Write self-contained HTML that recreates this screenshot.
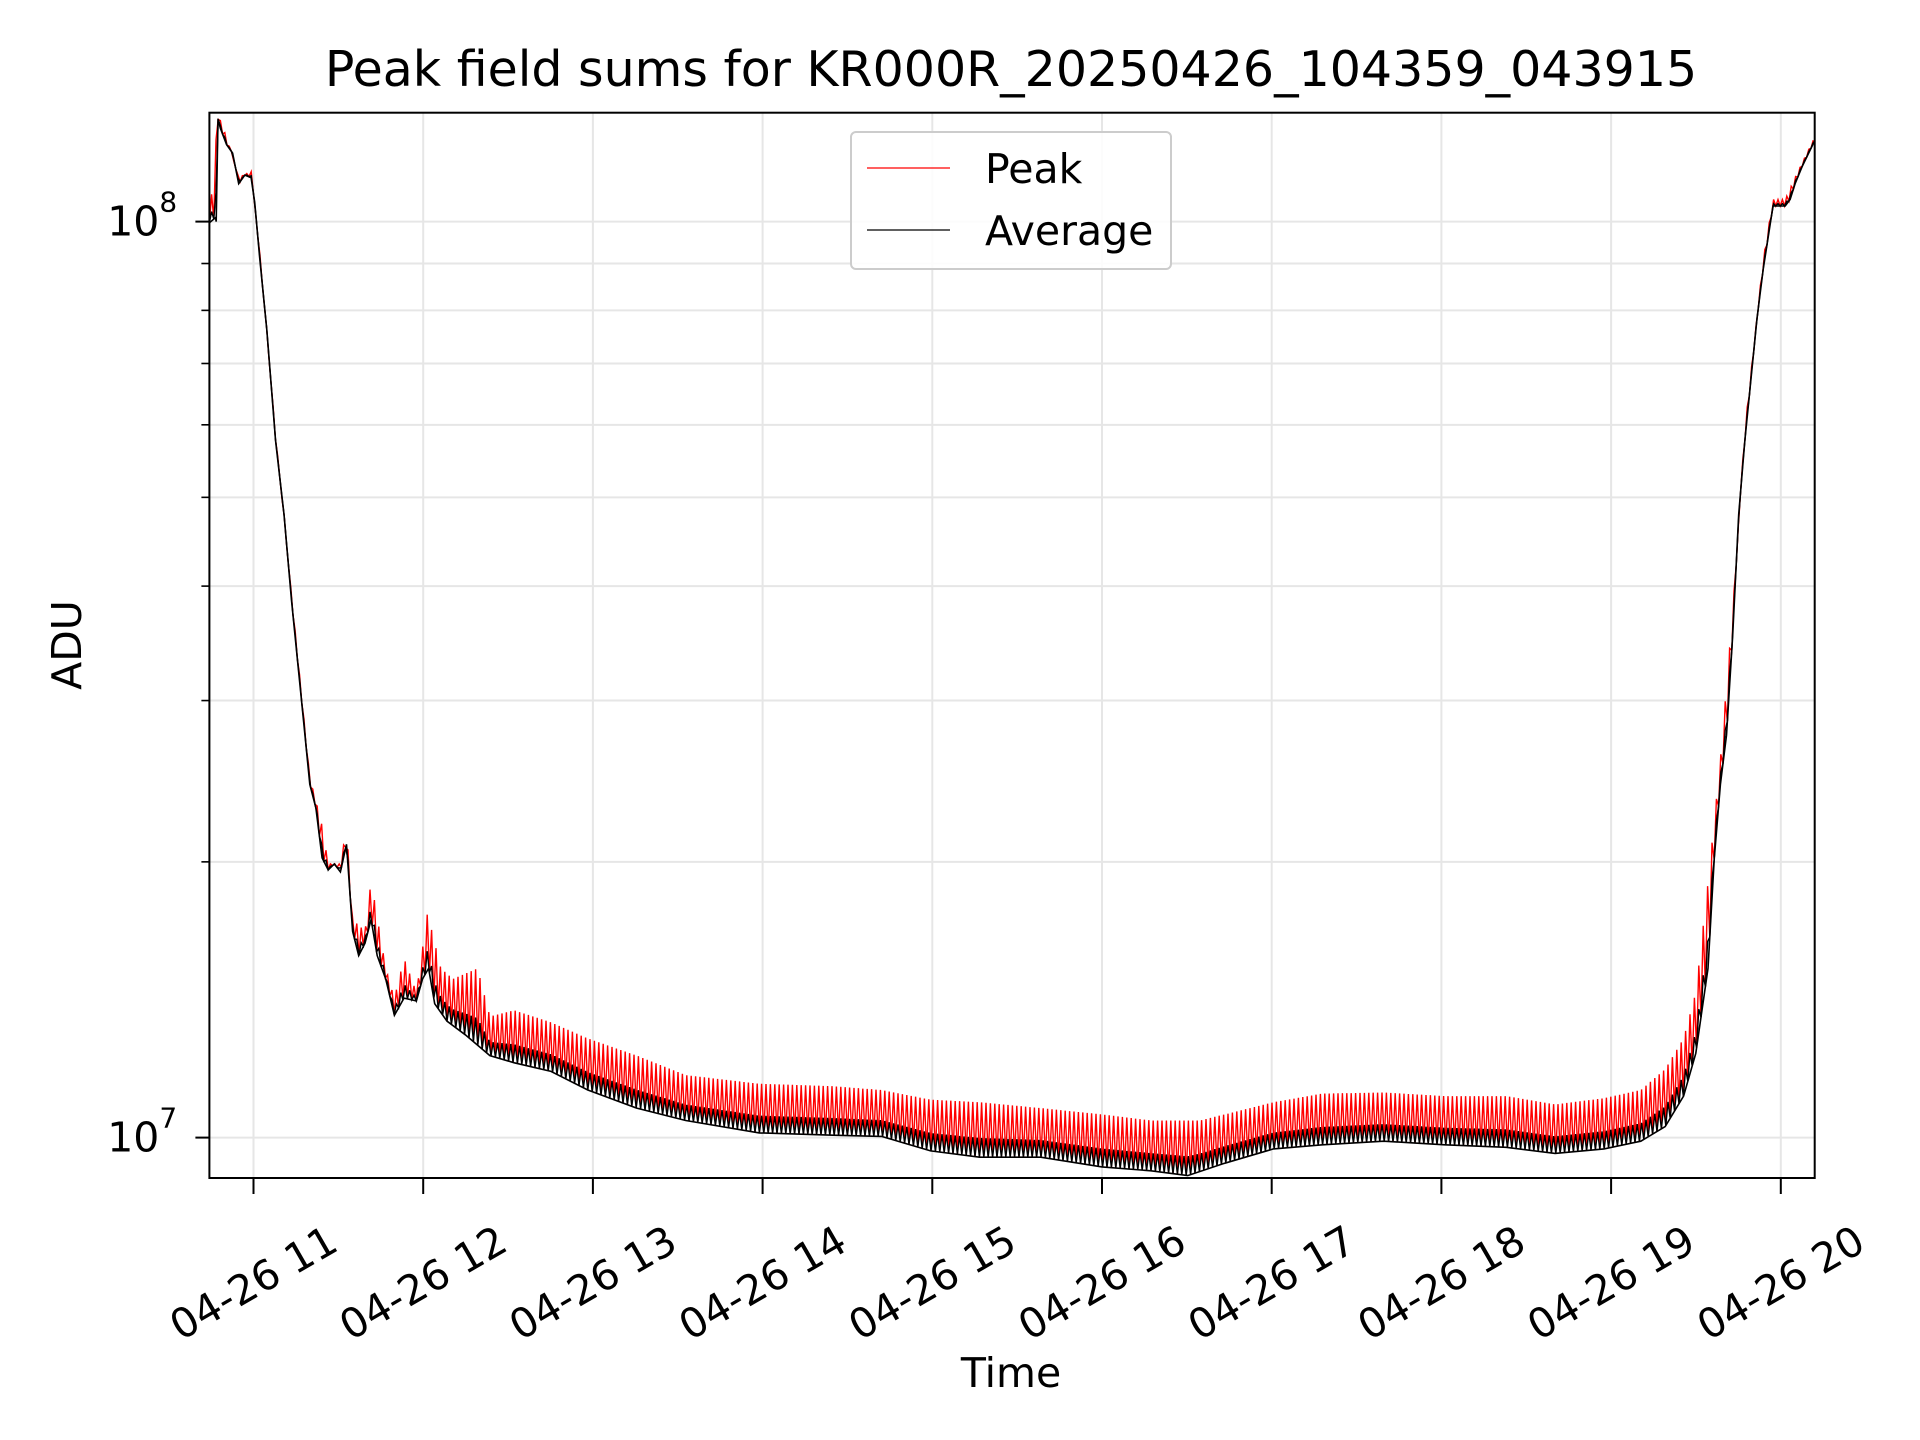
<!DOCTYPE html>
<html><head><meta charset="utf-8"><style>
html,body{margin:0;padding:0;background:#fff}
svg{display:block;font-family:"DejaVu Sans","Liberation Sans",sans-serif}
</style></head><body>
<svg id="chart" width="1920" height="1440" viewBox="0 0 1920 1440" xmlns="http://www.w3.org/2000/svg">
<rect width="1920" height="1440" fill="#fff"/>
<g id="grid"></g>
<g id="series"></g>
<rect x="209.4" y="112.7" width="1605.3" height="1065.3" fill="none" stroke="#000" stroke-width="2"/>
<g id="axes"></g>
<text x="1011" y="86" font-size="49" text-anchor="middle">Peak field sums for KR000R_20250426_104359_043915</text>
<text x="1011" y="1387" font-size="41" text-anchor="middle">Time</text>
<text x="0" y="0" font-size="41" text-anchor="middle" transform="translate(81,645) rotate(-90)">ADU</text>
<g>
<rect x="851" y="132" width="320" height="137" rx="5" fill="#fff" fill-opacity="0.85" stroke="#ccc" stroke-width="2"/>
<line x1="867" y1="168" x2="950" y2="168" stroke="#f00" stroke-width="1.3"/>
<text x="985" y="183" font-size="41">Peak</text>
<line x1="867" y1="230" x2="950" y2="230" stroke="#000" stroke-width="1.3"/>
<text x="985" y="245" font-size="41">Average</text>
</g>
</svg>
<script>
const avgT=[10.74,10.776,10.78,10.791,10.805,10.841,10.877,10.913,10.949,10.986,11.007,11.036,11.079,11.13,11.18,11.224,11.26,11.296,11.332,11.368,11.404,11.44,11.476,11.512,11.548,11.584,11.62,11.657,11.693,11.729,11.779,11.83,11.887,11.96,11.996,12.032,12.068,12.14,12.248,12.393,12.537,12.753,12.97,13.258,13.547,13.98,14.413,14.701,14.99,15.279,15.639,16.0,16.289,16.505,16.722,17.01,17.299,17.66,18.02,18.381,18.67,18.958,19.175,19.319,19.427,19.499,19.571,19.608,19.644,19.68,19.716,19.752,19.788,19.824,19.86,19.896,19.954,20.026,20.055,20.084,20.127,20.199];
const avgV=[9.97e7,1.01e8,1.0e8,1.295e8,1.264e8,1.214e8,1.188e8,1.10e8,1.124e8,1.117e8,1.05e8,9.15e7,7.6e7,5.76e7,4.79e7,3.86e7,3.31e7,2.84e7,2.43e7,2.29e7,2.02e7,1.96e7,1.99e7,1.95e7,2.09e7,1.68e7,1.58e7,1.63e7,1.73e7,1.58e7,1.49e7,1.36e7,1.42e7,1.41e7,1.49e7,1.53e7,1.40e7,1.34e7,1.295e7,1.229e7,1.207e7,1.181e7,1.127e7,1.077e7,1.044e7,1.012e7,1.006e7,1.003e7,9.67e6,9.52e6,9.52e6,9.29e6,9.20e6,9.09e6,9.375e6,9.72e6,9.82e6,9.91e6,9.82e6,9.76e6,9.61e6,9.72e6,9.91e6,1.028e7,1.11e7,1.236e7,1.53e7,2.02e7,2.43e7,2.75e7,3.52e7,4.79e7,5.76e7,6.72e7,7.84e7,8.87e7,1.04e8,1.04e8,1.057e8,1.10e8,1.15e8,1.225e8];
const peakT=[10.74,10.791,10.841,10.913,10.986,11.036,11.13,11.26,11.332,11.368,11.404,11.44,11.512,11.548,11.584,11.657,11.693,11.779,11.83,11.887,11.96,12.025,12.104,12.176,12.32,12.393,12.537,12.753,12.97,13.258,13.547,13.98,14.413,14.701,14.99,15.279,15.639,16.0,16.289,16.578,16.722,17.01,17.299,17.66,18.02,18.381,18.67,18.958,19.175,19.319,19.427,19.499,19.571,19.644,19.716,19.788,19.896,19.954,20.026,20.084,20.199];
const peakV=[1.0e8,1.31e8,1.236e8,1.117e8,1.135e8,9.29e7,5.85e7,3.36e7,2.47e7,2.33e7,2.19e7,1.99e7,1.99e7,2.18e7,1.73e7,1.68e7,1.91e7,1.53e7,1.42e7,1.57e7,1.44e7,1.76e7,1.53e7,1.49e7,1.53e7,1.356e7,1.377e7,1.336e7,1.283e7,1.229e7,1.17e7,1.145e7,1.138e7,1.127e7,1.10e7,1.093e7,1.077e7,1.06e7,1.044e7,1.044e7,1.06e7,1.093e7,1.117e7,1.12e7,1.11e7,1.11e7,1.087e7,1.104e7,1.127e7,1.188e7,1.283e7,1.44e7,1.90e7,2.59e7,3.75e7,5.94e7,9.09e7,1.057e8,1.057e8,1.117e8,1.236e8];
const xTickHours=[11,12,13,14,15,16,17,18,19,20];
const xTickLabels=["04-26 11","04-26 12","04-26 13","04-26 14","04-26 15","04-26 16","04-26 17","04-26 18","04-26 19","04-26 20"];
const yMajor=[1e7,1e8];
const yMajorExp=["7","8"];
const yMinor=[2e7,3e7,4e7,5e7,6e7,7e7,8e7,9e7];

const NS="http://www.w3.org/2000/svg";
const L=209.4,R=1814.7,T=112.7,B=1178;
function xs(t){return 253.5+(t-11)*169.7;}
function ys(v){return 1137.6-916*Math.log10(v/1e7);}
function mk(tag,attrs,parent){const e=document.createElementNS(NS,tag);for(const k in attrs)e.setAttribute(k,attrs[k]);parent.appendChild(e);return e;}
function interp(ts,vs,t){
  if(t<=ts[0])return Math.log10(vs[0]);
  for(let i=1;i<ts.length;i++){if(t<=ts[i]){const f=(t-ts[i-1])/(ts[i]-ts[i-1]);return Math.log10(vs[i-1])*(1-f)+Math.log10(vs[i])*f;}}
  return Math.log10(vs[vs.length-1]);
}
const grid=document.getElementById('grid'),axes=document.getElementById('axes'),series=document.getElementById('series');
yMinor.forEach(v=>{
  const g=mk('line',{x1:L,x2:R,y1:ys(v),y2:ys(v),stroke:'#e6e6e6','stroke-width':2},grid);
  
  const t=mk('line',{x1:L-8,x2:L,y1:ys(v),y2:ys(v),stroke:'#000','stroke-width':1.6},axes);
  
});
yMajor.forEach((v,i)=>{
  const g=mk('line',{x1:L,x2:R,y1:ys(v),y2:ys(v),stroke:'#e6e6e6','stroke-width':2},grid);
  
  const t=mk('line',{x1:L-14,x2:L,y1:ys(v),y2:ys(v),stroke:'#000','stroke-width':2},axes);
  
  const tx=mk('text',{x:L-50,y:ys(v)+14,'font-size':41,'text-anchor':'end'},axes);
  
  tx.textContent='10';
  const sup=mk('text',{x:L-50,y:ys(v)-10,'font-size':28,'text-anchor':'start'},axes);
  
  sup.textContent=yMajorExp[i];
});
xTickHours.forEach((h,i)=>{
  const x=xs(h);
  const g=mk('line',{x1:x,x2:x,y1:T,y2:B,stroke:'#e6e6e6','stroke-width':2},grid);
  
  const t=mk('line',{x1:x,x2:x,y1:B,y2:B+16,stroke:'#000','stroke-width':2},axes);
  
  const tx=mk('text',{x:0,y:0,'font-size':41,'text-anchor':'middle','dominant-baseline':'central',transform:`translate(${x},1283) rotate(-30)`},axes);
  
  tx.textContent=xTickLabels[i];
});
const t0=avgT[0],t1=avgT[avgT.length-1];
const step=2.2/169.7;
let pk=[],bk=[],k=0;
for(let t=t0;t<=t1;t+=step,k++){
  const a=interp(avgT,avgV,t),p=interp(peakT,peakV,t);
  const x=xs(t).toFixed(1);
  pk.push(x+','+ys(Math.pow(10,k%2?p:a)).toFixed(1));
  bk.push(x+','+ys(Math.pow(10,k%2?a+(p-a)*0.35:a)).toFixed(1));
}
const pl=mk('polyline',{points:pk.join(' '),fill:'none',stroke:'#f00','stroke-width':1.4},series);

const bl=mk('polyline',{points:bk.join(' '),fill:'none',stroke:'#000','stroke-width':1.4},series);

const al=mk('polyline',{points:avgT.map((t,i)=>xs(t).toFixed(1)+','+ys(avgV[i]).toFixed(1)).join(' '),fill:'none',stroke:'#000','stroke-width':1.6},series);

</script>
</body></html>
